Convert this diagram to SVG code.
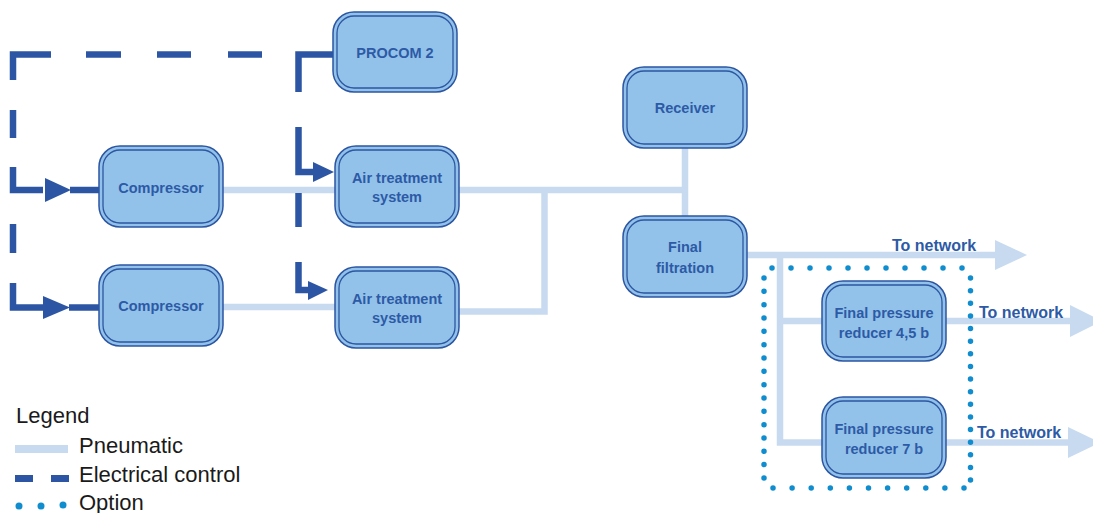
<svg xmlns="http://www.w3.org/2000/svg" width="1093" height="513" viewBox="0 0 1093 513">
<style>
.box{fill:#92c2e9;stroke:#2d56a3;stroke-width:1.5}
.inner{fill:none;stroke:#2d56a3;stroke-width:1.3}
.lbl{font-family:"Liberation Sans",Arial,sans-serif;font-weight:bold;font-size:14.5px;fill:#2d5aa6;text-anchor:middle}
.net{font-family:"Liberation Sans",Arial,sans-serif;font-weight:bold;font-size:16px;fill:#2d5aa6}
.leg{font-family:"Liberation Sans",Arial,sans-serif;font-size:22px;fill:#1a1a1a}
.pn{fill:none;stroke:#c7daf0;stroke-width:6.5}
.pnh{fill:#c7daf0}
.el{fill:none;stroke:#2c56a4;stroke-width:6.5;stroke-linejoin:miter}
.elh{fill:#2c56a4}
.dot{fill:none;stroke:#108dcf;stroke-width:5.5;stroke-linecap:round}
</style>
<rect width="1093" height="513" fill="#ffffff"/>
<g id="connectors">
  <!-- pneumatic -->
  <path class="pn" d="M223 190 H335"/>
  <path class="pn" d="M223 307 H335"/>
  <path class="pn" d="M459 190 H688"/>
  <path class="pn" d="M685 148 V216"/>
  <path class="pn" d="M459 311.5 H544.5 V190"/>
  <path class="pn" d="M747 255 H996"/>
  <polygon class="pnh" points="995,240 1027,255 995,270"/>
  <path class="pn" d="M780 255 V442.5 H822"/>
  <path class="pn" d="M780 321 H822"/>
  <path class="pn" d="M946 321 H1071"/>
  <polygon class="pnh" points="1070,305 1102,321 1070,337"/>
  <path class="pn" d="M946 442.5 H1069"/>
  <polygon class="pnh" points="1068,427 1100,442.5 1068,458"/>
  <!-- electrical -->
  <path class="el" d="M51 54.5 H13 V80"/>
  <path class="el" d="M86 54.5 H121"/>
  <path class="el" d="M157 54.5 H191"/>
  <path class="el" d="M228 54.5 H262"/>
  <path class="el" d="M13 110 V138"/>
  <path class="el" d="M13 167 V190 H43"/>
  <polygon class="elh" points="45,178 71,190 45,202"/>
  <path class="el" d="M70 190 H99"/>
  <path class="el" d="M13 224 V253"/>
  <path class="el" d="M13 283 V307.5 H43"/>
  <polygon class="elh" points="43,296 70,307.5 43,319"/>
  <path class="el" d="M69 307.5 H99"/>
  <path class="el" d="M333 54.5 H298.5 V92"/>
  <path class="el" d="M298.5 127 V172 H315"/>
  <polygon class="elh" points="313,162 334,172 313,182"/>
  <path class="el" d="M298.5 193 V227"/>
  <path class="el" d="M298.5 262 V290 H310"/>
  <polygon class="elh" points="308,281 328,290 308,300"/>
  <!-- option dotted box -->
  <path class="dot" stroke-dasharray="0 19" d="M772 268 H963"/>
  <path class="dot" stroke-dasharray="0 19.1" d="M773 488 H965"/>
  <path class="dot" stroke-dasharray="0 13.33" d="M764 278 V479"/>
  <path class="dot" stroke-dasharray="0 12.625" d="M970.5 278 V481"/>
</g>
<g id="procom2">
  <rect class="box" x="333" y="12" width="124" height="80" rx="21"/>
  <rect class="inner" x="337" y="16" width="116" height="72" rx="17"/>
  <text class="lbl" x="395" y="58">PROCOM 2</text>
</g>
<g id="receiver">
  <rect class="box" x="623" y="67" width="124" height="81" rx="21"/>
  <rect class="inner" x="627" y="71" width="116" height="73" rx="17"/>
  <text class="lbl" x="685" y="113">Receiver</text>
</g>
<g id="compressor1">
  <rect class="box" x="99" y="146" width="124" height="81" rx="21"/>
  <rect class="inner" x="103" y="150" width="116" height="73" rx="17"/>
  <text class="lbl" x="161" y="193">Compressor</text>
</g>
<g id="air-treatment1">
  <rect class="box" x="335" y="146" width="124" height="81" rx="21"/>
  <rect class="inner" x="339" y="150" width="116" height="73" rx="17"/>
  <text class="lbl" x="397" y="183">Air treatment</text>
  <text class="lbl" x="397" y="202">system</text>
</g>
<g id="final-filtration">
  <rect class="box" x="623" y="216" width="124" height="81" rx="21"/>
  <rect class="inner" x="627" y="220" width="116" height="73" rx="17"/>
  <text class="lbl" x="685" y="252">Final</text>
  <text class="lbl" x="685" y="273">filtration</text>
</g>
<g id="compressor2">
  <rect class="box" x="99" y="265" width="124" height="81" rx="21"/>
  <rect class="inner" x="103" y="269" width="116" height="73" rx="17"/>
  <text class="lbl" x="161" y="311">Compressor</text>
</g>
<g id="air-treatment2">
  <rect class="box" x="335" y="267" width="124" height="81" rx="21"/>
  <rect class="inner" x="339" y="271" width="116" height="73" rx="17"/>
  <text class="lbl" x="397" y="304">Air treatment</text>
  <text class="lbl" x="397" y="323">system</text>
</g>
<g id="reducer-45">
  <rect class="box" x="822" y="281" width="124" height="80" rx="21"/>
  <rect class="inner" x="826" y="285" width="116" height="72" rx="17"/>
  <text class="lbl" x="884" y="318">Final pressure</text>
  <text class="lbl" x="884" y="338">reducer 4,5 b</text>
</g>
<g id="reducer-7">
  <rect class="box" x="822" y="397" width="124" height="81" rx="21"/>
  <rect class="inner" x="826" y="401" width="116" height="73" rx="17"/>
  <text class="lbl" x="884" y="434">Final pressure</text>
  <text class="lbl" x="884" y="454">reducer 7 b</text>
</g>
<g id="network-labels">
  <text class="net" x="892" y="251">To network</text>
  <text class="net" x="979" y="318">To network</text>
  <text class="net" x="977" y="438">To network</text>
</g>
<g id="legend">
  <text class="leg" x="16" y="423">Legend</text>
  <line x1="15" y1="449" x2="68" y2="449" stroke="#c7daf0" stroke-width="8"/>
  <text class="leg" x="79" y="453">Pneumatic</text>
  <line x1="15" y1="478.5" x2="33" y2="478.5" stroke="#2c56a4" stroke-width="7"/>
  <line x1="51" y1="478.5" x2="69" y2="478.5" stroke="#2c56a4" stroke-width="7"/>
  <text class="leg" x="79" y="482">Electrical control</text>
  <circle cx="19" cy="506" r="3.5" fill="#108dcf"/>
  <circle cx="41" cy="506" r="3.5" fill="#108dcf"/>
  <circle cx="63" cy="505" r="3.5" fill="#108dcf"/>
  <text class="leg" x="79" y="510">Option</text>
</g>
</svg>
